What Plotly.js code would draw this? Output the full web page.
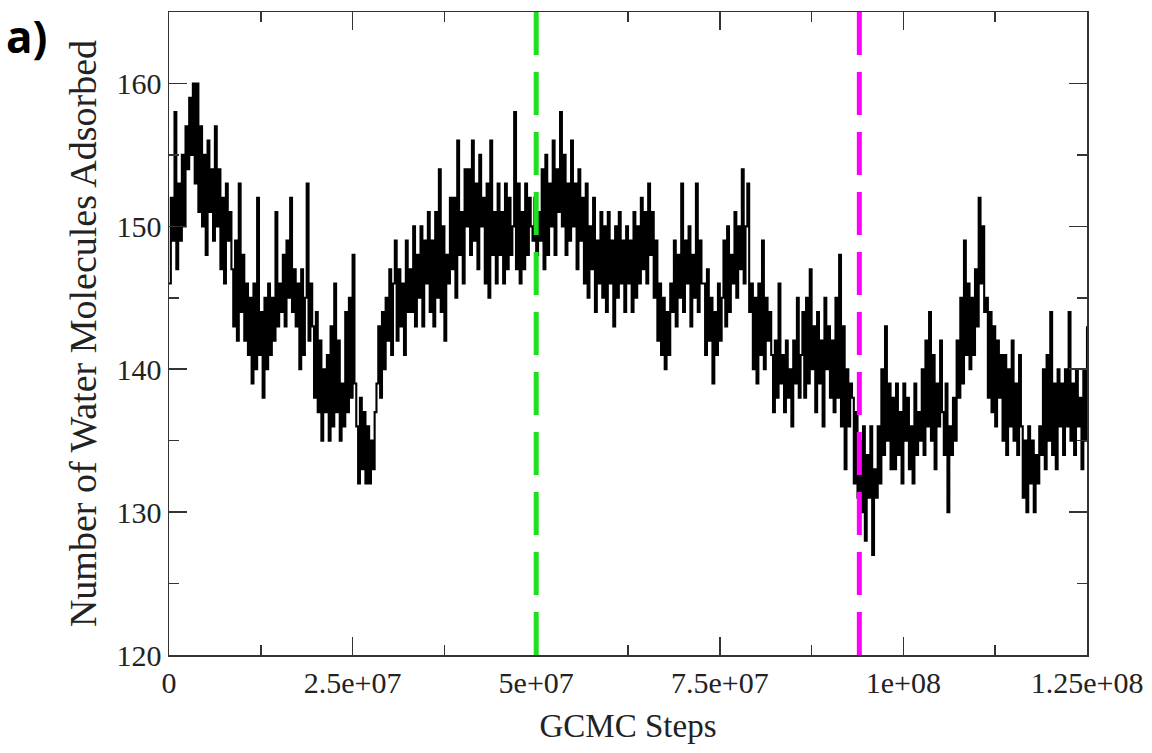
<!DOCTYPE html>
<html>
<head>
<meta charset="utf-8">
<script src="https://cdn.plot.ly/plotly-3.0.1.min.js"></script>
<style>html,body{margin:0;padding:0;background:#fff;}#chart{width:1152px;height:753px;}</style>
</head>
<body>
<div id="chart"></div>
<script>
// GCMC sampling interval (steps between recorded points)
const stepInterval = 250000;
// Number of water molecules adsorbed
const adsorbed = [
146,152,149,158,147,153,149,155,150,157,154,159,155,160,153,160,
151,157,150,155,148,156,151,154,149,157,
150,154,147,152,146,153,149,151,
147,143,149,142,153,144,148,142,146,
141,145,139,146,140,152,141,144,138,145,140,
146,141,145,142,151,143,146,144,
148,143,149,145,152,144,147,143,
146,140,147,141,145,153,142,146,
143,138,144,137,142,135,140,137,
141,135,143,136,146,137,142,135,139,136,144,
137,145,138,148,139,
136,132,138,133,137,132,136,132,135,133,137,
139,143,138,144,140,145,
142,147,141,146,149,142,147,143,146,141,149,144,147,
144,150,143,148,145,150,143,149,146,151,144,
149,143,151,145,154,144,150,142,148,146,152,
147,152,145,156,148,151,146,154,
150,154,148,156,149,153,147,155,150,
152,146,153,145,156,148,151,146,153,148,
151,146,153,147,152,148,150,158,147,153,146,
151,147,153,148,152,150,149,152,148,151,
149,154,147,155,148,153,150,156,148,154,151,158,
150,155,148,153,149,156,150,153,147,154,149,
152,146,153,145,150,147,152,144,149,146,151,
145,150,144,151,146,149,143,150,145,151,146,
149,144,150,146,149,144,151,145,150,146,152,
147,151,146,153,148,151,145,149,
142,146,141,145,140,144,141,146,
144,149,143,148,145,153,144,149,146,150,143,148,145,153,144,149,146,
146,141,147,142,145,139,144,141,146,142,
145,149,143,150,144,148,146,151,145,150,147,154,146,150,
153,144,146,140,145,139,146,141,149,140,145,142,144,
141,137,142,138,146,139,141,137,142,138,140,136,142,139,145,138,141,
144,138,145,139,147,140,143,137,144,139,142,136,145,140,143,138,
142,137,145,138,148,136,143,133,140,136,139,
138,132,137,131,135,
130,136,128,134,131,136,127,133,131,
136,132,140,134,143,135,139,133,
138,133,139,134,137,132,139,135,138,133,136,132,139,134,137,135,
140,134,142,136,144,135,141,133,139,136,142,
137,134,139,130,136,134,138,135,
142,138,145,139,149,141,146,140,
145,141,147,143,152,146,150,144,
145,138,144,137,143,136,142,138,141,
135,141,134,140,136,142,135,139,134,141,136,
131,135,130,136,132,135,130,134,132,136,
134,140,133,141,135,144,134,139,133,140,136,
139,134,140,136,144,135,139,134,140,136,138,133,140,135,143
];
const steps = adsorbed.map((v, i) => i * stepInterval);

const xTickVals = [0, 2.5e7, 5e7, 7.5e7, 1e8, 1.25e8];
const xTickText = ['0', '2.5e+07', '5e+07', '7.5e+07', '1e+08', '1.25e+08'];
const yTickVals = [120, 130, 140, 150, 160];
const markerSteps = [5e7, 9.4e7];
const markerColors = ['#1fe01f', '#ff00ff'];

const serif = 'Liberation Serif, Times New Roman, serif';
const axisCommon = {
  showline: true, linecolor: '#333', linewidth: 1.5, mirror: 'ticks',
  ticks: 'inside', ticklen: 18, tickwidth: 1.5, tickcolor: '#333',
  showgrid: false, zeroline: false,
  tickfont: {family: serif, size: 30, color: '#222'}
};

const layout = {
  width: 1152, height: 753,
  margin: {l: 169, r: 65, t: 12, b: 98},
  paper_bgcolor: '#fff', plot_bgcolor: '#fff',
  showlegend: false,
  xaxis: Object.assign({}, axisCommon, {
    range: [0, 1.25e8], tickmode: 'array', tickvals: xTickVals, ticktext: xTickText,
    minor: {ticks: 'inside', ticklen: 10, tickwidth: 1.5, tickcolor: '#333', dtick: 1.25e7, tick0: 0},
    title: {text: 'GCMC Steps', font: {family: serif, size: 33, color: '#222'}, standoff: 16}
  }),
  yaxis: Object.assign({}, axisCommon, {
    range: [120, 165], tickmode: 'array', tickvals: yTickVals,
    minor: {ticks: 'inside', ticklen: 10, tickwidth: 1.5, tickcolor: '#333', dtick: 5, tick0: 120},
    title: {text: 'Number of Water Molecules Adsorbed', font: {family: serif, size: 38, color: '#222'}, standoff: 8}
  }),
  shapes: markerSteps.map((s, k) => ({
    type: 'line', xref: 'x', yref: 'paper', x0: s, x1: s, y0: 1, y1: 0,
    line: {color: markerColors[k], width: 5, dash: '43px,17px'}, layer: 'above'
  })),
  annotations: [{
    text: '<b>a)</b>', xref: 'paper', yref: 'paper', x: -0.18, y: 1.012,
    xanchor: 'left', yanchor: 'top', showarrow: false,
    font: {family: 'Open Sans, Liberation Sans, sans-serif', size: 44, color: '#000'}
  }]
};

Plotly.newPlot('chart', [{
  x: steps, y: adsorbed, type: 'scatter', mode: 'lines',
  line: {color: '#000', width: 2.1, shape: 'hv'}, hoverinfo: 'skip'
}], layout, {displayModeBar: false, staticPlot: true});
</script>
</body>
</html>
